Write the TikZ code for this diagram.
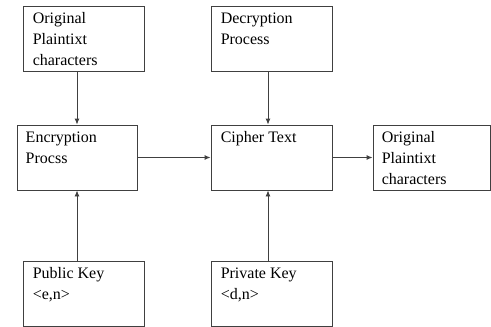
\documentclass[tikz,border=0pt]{standalone}
\usepackage{fontspec}
\setmainfont{Liberation Serif}
\usetikzlibrary{arrows.meta}
\begin{document}
\begin{tikzpicture}[x=1pt,y=-1pt]
    \tikzstyle{box}=[draw=black!75, line width=0.9pt, inner sep=0pt, minimum width=121pt, minimum height=65pt]
    \tikzstyle{txt}=[anchor=north west, inner sep=0pt, align=left, font=\fontsize{16}{21}\selectfont]
    \tikzstyle{arr}=[draw=black!75, line width=0.9pt, -{Latex[length=6pt,width=5pt]}]
    \useasboundingbox (0,0) rectangle (491,327);

    \node[box] (plain) at (83.5,38.5) {};
    \node[box] (dec) at (271.5,38.5) {};
    \node[box, minimum width=120pt] (enc) at (77,157.5) {};
    \node[box] (cipher) at (271.5,157.5) {};
    \node[box, minimum width=117pt] (out) at (431.5,157.5) {};
    \node[box] (pub) at (83.5,293.5) {};
    \node[box] (priv) at (271.5,293.5) {};

    \node[txt] (plaintxt) at ([shift={(10,7)}]plain.north west) {Original\\Plaintixt\\characters};
    \node[txt] (dectxt) at ([shift={(10,7)}]dec.north west) {Decryption\\Process};
    \node[txt] (enctxt) at ([shift={(9,7)}]enc.north west) {Encryption\\Procss};
    \node[txt] (ciphertxt) at ([shift={(10,7)}]cipher.north west) {Cipher Text};
    \node[txt] (outtxt) at ([shift={(9,7)}]out.north west) {Original\\Plaintixt\\characters};
    \node[txt] (pubtxt) at ([shift={(10,7)}]pub.north west) {Public Key\\<e,n>};
    \node[txt] (privtxt) at ([shift={(10,7)}]priv.north west) {Private Key\\<d,n>};

    \draw[arr] (plain.south -| enc.north) -- (enc.north);
    \draw[arr] (dec.south -| 268,0) -- (cipher.north -| 268,0);
    \draw[arr] (enc) -- (cipher);
    \draw[arr] (cipher) -- (out);
    \draw[arr] (pub.north -| enc.south) -- (enc.south);
    \draw[arr] (priv.north -| 268,0) -- (cipher.south -| 268,0);
\end{tikzpicture}
\end{document}
